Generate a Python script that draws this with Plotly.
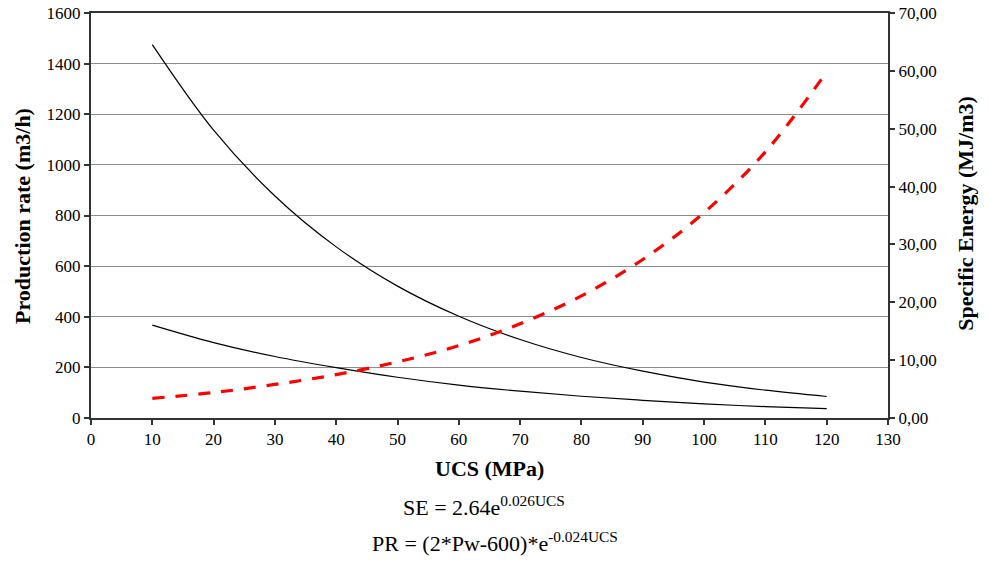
import plotly.graph_objects as go

ucs = [10, 20, 30, 40, 50, 60, 70, 80, 90, 100, 110, 120]
pr_high = [1475, 1137, 877, 676, 521, 402, 310, 239, 185, 142, 110, 85]
pr_low = [367, 298, 243, 199, 161, 130, 106, 86, 70, 56, 45, 37]
se = [3.4, 4.4, 5.8, 7.5, 9.7, 12.5, 16.3, 21.1, 27.4, 35.5, 46.0, 59.8]

x_ticks = list(range(0, 131, 10))
left_ticks = list(range(0, 1601, 200))
right_ticks = list(range(0, 71, 10))

SERIF = "Liberation Serif"

fig = go.Figure()
fig.add_trace(go.Scatter(x=ucs, y=pr_high, mode="lines", line=dict(color="black", width=1.2, shape="spline"),
                         showlegend=False, hoverinfo="skip"))
fig.add_trace(go.Scatter(x=ucs, y=pr_low, mode="lines", line=dict(color="black", width=1.2, shape="spline"),
                         showlegend=False, hoverinfo="skip"))
fig.add_trace(go.Scatter(x=ucs, y=se, mode="lines", yaxis="y2",
                         line=dict(color="#FF0000", width=3.2, dash="12px,11px", shape="spline"),
                         showlegend=False, hoverinfo="skip"))

axis_common = dict(showline=True, linecolor="#333333", linewidth=2, ticks="outside", ticklen=5,
                   tickcolor="#333333", tickwidth=1.5, tickfont=dict(family=SERIF, size=17, color="black"),
                   zeroline=False, automargin=False)

fig.update_layout(
    template="none",
    width=989, height=562,
    margin=dict(l=91, r=101, t=13, b=144, pad=0, autoexpand=False),
    paper_bgcolor="white", plot_bgcolor="white",
    separators=",.",
    font=dict(family=SERIF, color="black"),
    xaxis=dict(range=[0, 130], tickvals=x_ticks, showgrid=False, mirror=True, **axis_common),
    yaxis=dict(range=[0, 1600], tickvals=left_ticks, tickformat="d", showgrid=True,
               gridcolor="#8c8c8c", gridwidth=1.2, **axis_common),
    yaxis2=dict(range=[0, 70], tickvals=right_ticks, tickformat=".2f", overlaying="y", side="right",
                showgrid=False, **axis_common),
)

ann = [
    dict(text="<b>Production rate (m3/h)</b>", x=-0.086, y=0.5, textangle=-90, size=22),
    dict(text="<b>Specific Energy (MJ/m3)</b>", x=1.097, y=0.505, textangle=-90, size=22),
    dict(text="<b>UCS (MPa)</b>", x=0.5, y=-0.1235, textangle=0, size=22),
    dict(text="SE = 2.64e<sup>0.026UCS</sup>", x=0.4937, y=-0.218, textangle=0, size=22),
    dict(text="PR = (2*Pw-600)*e<sup>-0.024UCS</sup>", x=0.507, y=-0.306, textangle=0, size=22),
]
for a in ann:
    fig.add_annotation(text=a["text"], x=a["x"], y=a["y"], xref="paper", yref="paper",
                       xanchor="center", yanchor="middle", textangle=a["textangle"], showarrow=False,
                       font=dict(family=SERIF, size=a["size"], color="black"))

fig.write_html("out.html", config={"displayModeBar": False},
               post_script="document.body.style.margin='0';document.body.style.overflow='hidden';")
